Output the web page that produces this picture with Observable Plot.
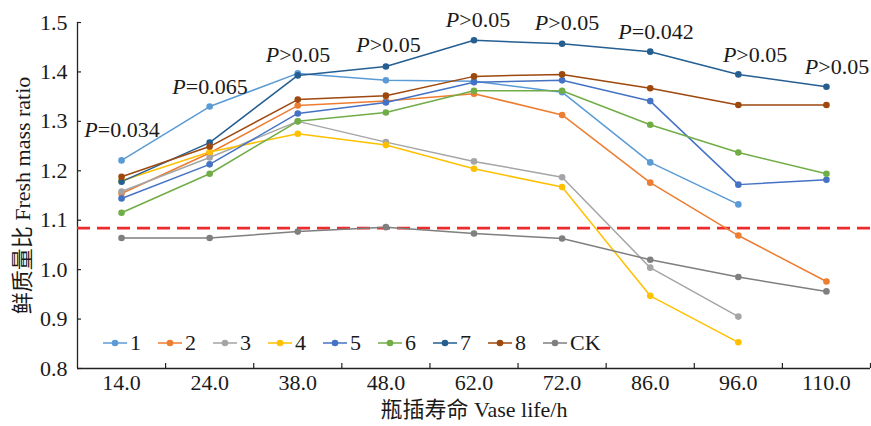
<!DOCTYPE html>
<html>
<head>
<meta charset="utf-8">
<script src="https://cdn.jsdelivr.net/npm/d3@7"></script>
<script src="https://cdn.jsdelivr.net/npm/@observablehq/plot@0.6"></script>
<style>
  html, body { margin: 0; padding: 0; background: #fff; }
  #wrap { position: relative; width: 871px; height: 426px; font-family: "Liberation Serif", "Times New Roman", "Noto Sans CJK SC", serif; }
  #legend { position: absolute; left: 103px; top: 330px; display: flex; align-items: center; font-size: 22px; color: #1a1a1a; line-height: 26px; }
  .item { display: flex; align-items: center; margin-right: 17px; }
  .item svg { margin-right: 3px; }
</style>
</head>
<body>
<div id="wrap"><div id="chart"></div><div id="legend"></div></div>
<script>
const xLabels = ["14.0", "24.0", "38.0", "48.0", "62.0", "72.0", "86.0", "96.0", "110.0"];
const seriesNames = ["1", "2", "3", "4", "5", "6", "7", "8", "CK"];
const seriesColors = ["#5B9BD5", "#ED7D31", "#A5A5A5", "#FFC000", "#4472C4", "#70AD47", "#255E91", "#9E480E", "#7F7F7F"];
const s1 = [1.221, 1.330, 1.397, 1.383, 1.381, 1.359, 1.217, 1.132, null];
const s2 = [1.154, 1.236, 1.332, 1.341, 1.356, 1.313, 1.176, 1.069, 0.976];
const s3 = [1.158, 1.227, 1.300, 1.258, 1.219, 1.187, 1.004, 0.905, null];
const s4 = [1.180, 1.238, 1.275, 1.252, 1.204, 1.167, 0.947, 0.853, null];
const s5 = [1.144, 1.213, 1.316, 1.338, 1.379, 1.383, 1.341, 1.172, 1.182];
const s6 = [1.115, 1.194, 1.300, 1.318, 1.362, 1.362, 1.293, 1.237, 1.194];
const s7 = [1.178, 1.257, 1.393, 1.411, 1.464, 1.457, 1.441, 1.395, 1.370];
const s8 = [1.188, 1.249, 1.344, 1.352, 1.391, 1.395, 1.367, 1.333, 1.333];
const sCK = [1.064, 1.064, 1.077, 1.086, 1.073, 1.063, 1.020, 0.985, 0.956];
const referenceLine = 1.084;
const yTicks = [0.8, 0.9, 1.0, 1.1, 1.2, 1.3, 1.4, 1.5];
const pText = ["P=0.034", "P=0.065", "P>0.05", "P>0.05", "P>0.05", "P>0.05", "P=0.042", "P>0.05", "P>0.05"];
const pX = [0.505, 1.504, 2.503, 3.53, 4.546, 5.556, 6.566, 7.69, 8.62];
const pY = [1.269, 1.356, 1.420, 1.441, 1.490, 1.484, 1.467, 1.420, 1.396];

const allSeries = [s1, s2, s3, s4, s5, s6, s7, s8, sCK];
const rows = [];
allSeries.forEach((vals, si) => {
  vals.forEach((v, i) => {
    if (v != null) rows.push({series: seriesNames[si], x: i + 0.5, y: v});
  });
});
const ann = pText.map((t, i) => ({t, x: pX[i], y: pY[i]}));
const font = "'Liberation Serif', 'Times New Roman', 'Noto Sans CJK SC', serif";

const chart = Plot.plot({
  width: 871,
  height: 426,
  marginLeft: 77,
  marginRight: 1,
  marginTop: 22,
  marginBottom: 58,
  style: {fontFamily: font, fontSize: "22px", color: "#1a1a1a", background: "#fff"},
  x: {type: "linear", domain: [0, 9]},
  y: {domain: [0.8, 1.5]},
  color: {domain: seriesNames, range: seriesColors},
  marks: [
    Plot.axisX(d3.range(1, 10), {tickSize: -5, tickFormat: () => "", label: null, stroke: "#222", strokeWidth: 1.2}),
    Plot.axisX(d3.range(9).map(i => i + 0.5), {tickSize: 0, tickPadding: 6, tickFormat: d => xLabels[Math.floor(d)], fontSize: 22, label: "瓶插寿命 Vase life/h", labelAnchor: "center", labelOffset: 48, labelArrow: "none"}),
    Plot.axisY(yTicks, {tickSize: -4, tickPadding: 14, tickFormat: d3.format(".1f"), fontSize: 22, label: "鲜质量比 Fresh mass ratio", labelAnchor: "center", labelOffset: 63, labelArrow: "none", stroke: "#222", strokeWidth: 1.2}),
    Plot.ruleX([0], {stroke: "#222", strokeWidth: 1.3}),
    Plot.ruleY([0.8], {stroke: "#222", strokeWidth: 1.3}),
    Plot.ruleY([referenceLine], {stroke: "#EE2B2B", strokeWidth: 2.6, strokeDasharray: "13,7"}),
    Plot.line(rows, {x: "x", y: "y", z: "series", stroke: "series", strokeWidth: 1.5}),
    Plot.dot(rows, {x: "x", y: "y", fill: "series", r: 3.3}),
    Plot.text(ann, {x: "x", y: "y", text: "t", fontSize: 22, lineAnchor: "bottom", textAnchor: "middle", fill: "#1a1a1a"})
  ]
});
document.getElementById("chart").appendChild(chart);

// italic P in annotations
const ns = "http://www.w3.org/2000/svg";
chart.querySelectorAll("text").forEach(el => {
  const s = el.textContent;
  if (/^P[=>]/.test(s)) {
    while (el.firstChild) el.removeChild(el.firstChild);
    const a = document.createElementNS(ns, "tspan");
    a.setAttribute("font-style", "italic");
    a.textContent = "P";
    const b = document.createElementNS(ns, "tspan");
    b.textContent = s.slice(1);
    el.appendChild(a); el.appendChild(b);
  }
});

// legend
const legend = document.getElementById("legend");
seriesNames.forEach((name, i) => {
  const item = document.createElement("div");
  item.className = "item";
  item.innerHTML = `<svg width="24" height="10"><line x1="0" x2="24" y1="5" y2="5" stroke="${seriesColors[i]}" stroke-width="1.5"/><circle cx="12" cy="5" r="3.3" fill="${seriesColors[i]}"/></svg><span>${name}</span>`;
  legend.appendChild(item);
});
</script>
</body>
</html>
